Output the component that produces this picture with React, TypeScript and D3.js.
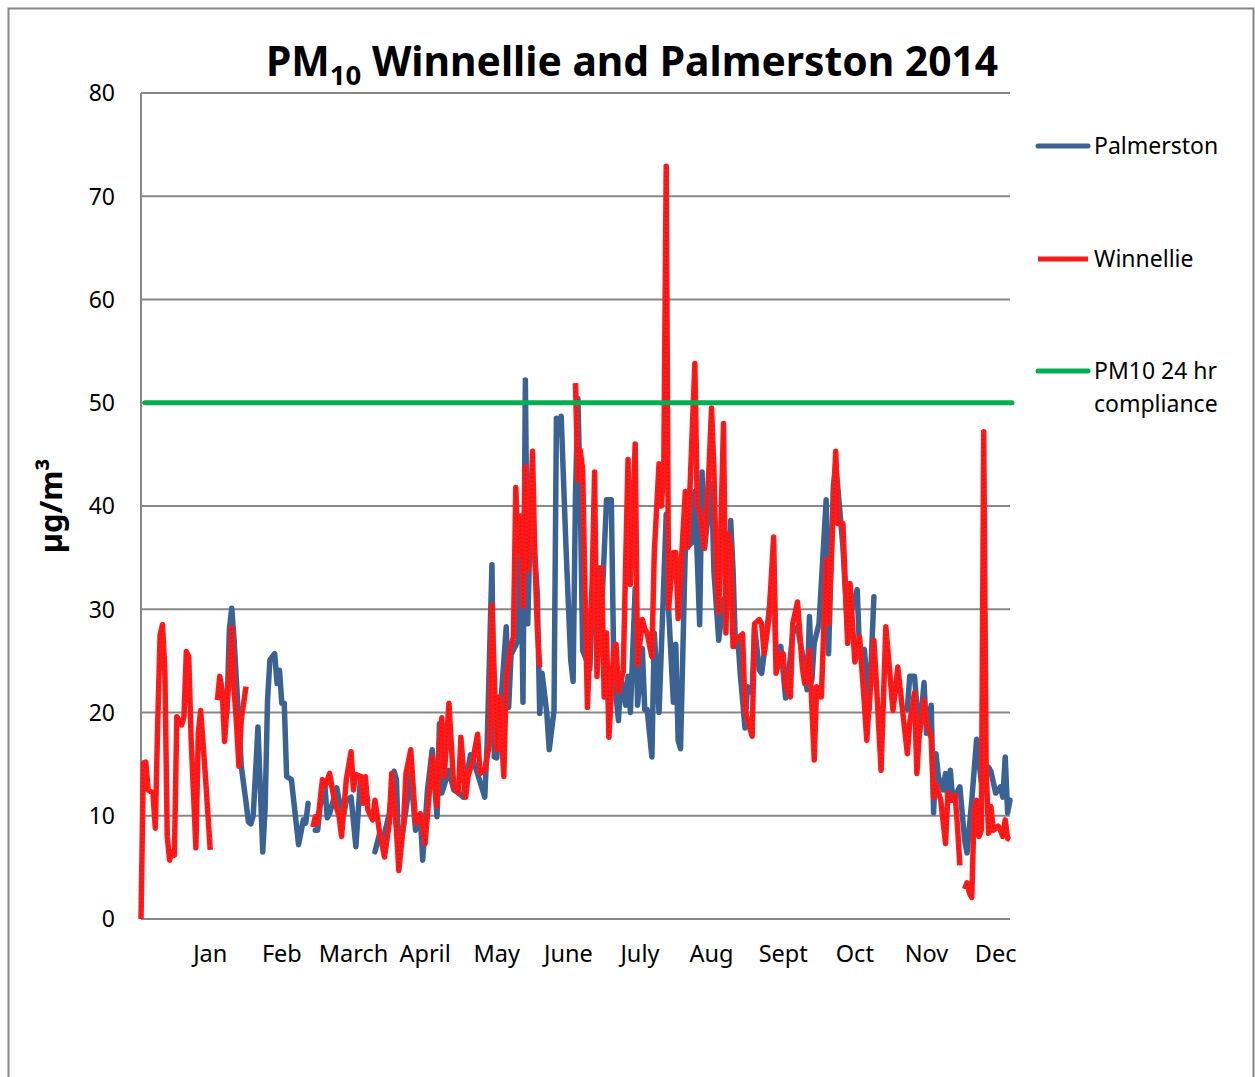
import React from "react";
import * as d3 from "d3";

type Pt = [number, number | null];

// Day index (0 = 1 Jan) and daily PM10 values (µg/m³); null marks a gap
const winnellie: Pt[] = [
  [0, 0], [1, 15.1], [2, 15.2], [3, 12.5], [5, 12.2], [6, 8.8], [7, 19], [8, 27.5], [9, 28.5], [10, 24],
  [11, 8], [12, 5.7], [13, 6.5], [14, 6.2], [15, 19.6], [17, 18.8], [18, 19.6], [19, 25.9], [20, 25.4],
  [21, 17.4], [23, 6.9], [24, 18], [25, 20.2], [27, 13.8], [29, 6.7],
  [30, null],
  [32, 21.2], [33, 23.5], [34, 22.2], [35, 17.2], [37, 23.8], [38, 28.2], [39, 22.2], [40, 19], [41, 14.8],
  [42, 19.3], [44, 22.5],
  [45, null],
  [72, 8.9], [73, 9.9], [74, 9.3], [76, 13.5], [77, 12.8], [79, 14.1], [81, 11.5], [83, 9.9], [84, 8],
  [86, 13.5], [88, 16.2], [89, 12.5], [90, 14], [92, 13.8], [93, 11.2], [94, 13.8], [95, 10.6], [97, 9.6],
  [98, 11.5], [100, 8.3], [102, 6], [104, 9.3], [105, 14.1], [107, 8.6], [108, 4.7], [110, 9.3], [111, 14.1],
  [113, 16.4], [115, 9.3], [117, 10.2], [119, 7.3], [122, 15.7], [124, 10.9], [125, 17], [126, 19.5],
  [127, 13.8], [129, 20.9], [131, 12.8], [133, 12.2], [134, 17.6], [136, 11.8], [137, 13.8], [139, 15.4],
  [141, 17.9], [142, 14.1], [144, 14.4], [146, 17], [147, 30.4], [149, 16.4], [150, 21.5], [152, 13.8],
  [153, 23.4], [155, 26.6], [156, 27.3], [157, 41.8], [158, 35.4], [159, 39], [160, 30.3], [161, 43.8],
  [162, 33.8], [163, 38], [164, 45.3], [165, 34.8], [166, 28.3], [167, 24.4],
  [168, null],
  [182, 51.9], [183, 42.5], [184, 45.4], [185, 43.5], [186, 31.5], [187, 20.5], [189, 32.8], [190, 43.3],
  [191, 23.5], [193, 34], [194, 21.5], [195, 27.7], [196, 17.6], [198, 26], [199, 26.6], [200, 22],
  [202, 24], [204, 44.5], [205, 32.4], [207, 46], [208, 24.6], [210, 29], [211, 28.1], [212, 27.7],
  [214, 25.4], [215, 35.5], [217, 44.1], [218, 40], [219, 44], [220, 72.9], [221, 30.1], [223, 35.5],
  [224, 35.5], [225, 29.1], [228, 41.4], [229, 36], [232, 53.8], [233, 40], [234, 39.5], [236, 35.9],
  [238, 44], [239, 49.5], [240, 43.3], [241, 33.6], [242, 29.7], [244, 48], [245, 27.7], [246, 37.3],
  [247, 36], [248, 26.4], [249, 27], [252, 27.6], [253, 20.3], [254, 19.3], [256, 17.7], [257, 28.6],
  [259, 29], [260, 28.6], [261, 25.7], [263, 29], [265, 37], [266, 23.8], [268, 25.7], [269, 25.7],
  [270, 22.5], [272, 21.5], [273, 28.6], [275, 30.7], [277, 24.4], [278, 22.8], [280, 26], [282, 15.4],
  [283, 22.5], [285, 21.5], [287, 34.8], [288, 28.6], [291, 45.3], [292, 38.3], [294, 38.3], [296, 26.7],
  [297, 32.5], [299, 24.9], [301, 27.3], [303, 20.9], [304, 17.3], [305, 20.9], [307, 27], [308, 23],
  [310, 14.4], [312, 28.3], [315, 20.2], [317, 24.4], [321, 16], [322, 19], [324, 21.9], [325, 14.1],
  [326, 18], [328, 21.2], [329, 19], [331, 17.5], [332, 11.8], [333, 13], [335, 11.5], [337, 7.3],
  [338, 12.2], [339, 11.5], [341, 12], [342, 9], [343, 5.2],
  [344, null],
  [345, 2.9], [346, 3.5], [347, 2.5], [348, 2.1], [349, 10.8], [350, 11.5], [351, 8], [352, 8.6],
  [353, 47.2], [354, 14.7], [355, 8.3], [356, 10.9], [357, 8.6], [359, 9], [360, 8.6], [361, 8],
  [362, 9.6], [363, 7.8], [364, 7.7],
];

const palmerston: Pt[] = [
  [35, 21], [36, 20], [37, 28], [38, 30.1], [39, 27], [41, 19], [42, 14.8], [44, 11.3], [45, 9.4],
  [46, 9.2], [47, 10], [49, 18.6], [50, 12.5], [51, 6.5], [52, 10.8], [53, 21.2], [54, 25.1], [56, 25.7],
  [57, 22.8], [58, 24.1], [59, 20.9], [60, 20.9], [61, 13.8], [63, 13.5], [65, 9.3], [66, 7.2], [68, 9.6],
  [69, 9.3], [70, 11.2],
  [71, null],
  [73, 8.6], [74, 8.6], [75, 10.9], [77, 13.1], [78, 9.8], [79, 10.2], [82, 12.7], [83, 11.5], [85, 10.2],
  [86, 11.5], [88, 11.8], [90, 7], [92, 13.8], [93, 13.1], [95, 11.5],
  [96, null],
  [98, 6.5], [100, 8.3], [101, 7.3], [104, 10.2], [106, 14.3], [107, 13.5], [108, 6], [111, 10.6],
  [113, 14.1], [115, 8.6], [117, 9.9], [118, 5.7], [120, 12.5], [122, 16.4], [124, 9.9], [125, 18.9],
  [126, 12.2], [129, 14.4], [131, 12.5], [133, 12.2], [135, 11.8], [138, 15.9], [140, 14.8], [144, 11.8],
  [145, 17], [147, 34.3], [148, 15.7], [149, 15.6], [151, 21.8], [153, 28.3], [154, 20.5], [155, 25.6],
  [158, 27], [159, 39], [160, 21], [161, 52.2], [162, 28.6], [163, 38], [164, 38.6], [166, 31.5],
  [167, 19.9], [168, 23.8], [170, 19.9], [171, 16.4], [173, 20.2], [174, 48.5], [175, 47], [176, 48.7],
  [178, 36.1], [180, 25.1], [181, 23], [182, 41.2], [183, 50.4], [184, 40.9], [185, 26], [188, 24.2],
  [189, 30], [190, 34], [192, 34], [193, 30.1], [195, 40.6], [197, 40.6], [198, 25], [199, 21.5],
  [200, 19.2], [201, 23.5], [203, 20.7], [204, 23.5], [205, 20], [207, 32], [208, 20.7], [210, 26.2],
  [211, 20.3], [212, 20.3], [214, 15.7], [215, 27.7], [217, 20], [220, 39.2], [221, 30], [223, 21],
  [224, 26.6], [225, 17.3], [226, 16.5], [228, 35.9], [231, 36.5], [232, 41.4], [234, 28.5], [235, 43.3],
  [236, 35.9], [239, 42.1], [240, 33.6], [242, 27], [244, 31], [245, 29.7], [247, 38.6], [248, 33.8],
  [249, 26.4], [250, 27.3], [251, 23.8], [253, 18.5], [254, 22.5], [256, 21.9], [257, 28.3], [259, 24.1],
  [260, 23.8], [261, 25.7], [263, 29.6], [265, 34.4], [266, 25.1], [268, 26.4], [270, 21.4], [271, 23.1],
  [273, 27.7], [275, 28.3], [277, 25.7], [279, 22.2], [280, 29.3], [281, 23.1], [282, 26.7], [284, 28.6],
  [287, 40.6], [288, 25.7], [290, 41.9], [291, 44.1], [294, 36.1], [296, 27.7], [298, 30.3], [300, 31.9],
  [301, 25.7], [303, 26.1], [305, 20.3], [307, 31.2],
  [308, null],
  [321, 20.3], [322, 23.5], [324, 23.5], [326, 17.7], [328, 22.9], [329, 18], [331, 20.7], [332, 10.3],
  [333, 16], [334, 13.8], [336, 12.5], [337, 14.1], [338, 11.5], [339, 14.4], [340, 11.5], [343, 12.8],
  [345, 7.6], [346, 6.4], [348, 11.5], [350, 17.4], [352, 13.2], [353, 14.1], [355, 14.7], [356, 14.3],
  [358, 12.2], [360, 12.8], [361, 11.8], [362, 15.7], [363, 10.3], [364, 11.5],
];

const compliance = 50;
const monthLabels = ["Jan", "Feb", "March", "April", "May", "June", "July", "Aug", "Sept", "Oct", "Nov", "Dec"];
const monthTickDays = [29, 59, 89, 119, 149, 179, 209, 239, 269, 299, 329, 358];
const yTicks = [0, 10, 20, 30, 40, 50, 60, 70, 80];

const FONT = "'Noto Sans', 'Open Sans', sans-serif";

export default function App() {
  const W = 1255, H = 1077;
  const left = 141, right = 1010, top = 93, bottom = 919;
  const x = d3.scaleLinear().domain([0, 364]).range([left, right]);
  const y = d3.scaleLinear().domain([0, 80]).range([bottom, top]);

  const line = d3
    .line<Pt>()
    .defined((d) => d[1] !== null)
    .x((d) => x(d[0]))
    .y((d) => y(d[1] as number));

  const blue = "#3A6394";
  const red = "#FF1A1A";
  const green = "#00B050";
  const grid = "#878787";

  return (
    <svg width={W} height={H} style={{ position: "absolute", left: 0, top: 0, background: "#fff" }}>
      <rect x={0} y={0} width={W} height={H} fill="#fff" />
      {/* chart frame */}
      <path d={`M8.5,${H + 5} V8.5 H1253.5 V${H + 5}`} fill="none" stroke={grid} strokeWidth={2} />

      {/* gridlines */}
      {yTicks.map((t) => (
        <line key={t} x1={left} x2={right} y1={y(t)} y2={y(t)} stroke={grid} strokeWidth={2} />
      ))}
      <line x1={left} x2={left} y1={top} y2={bottom} stroke={grid} strokeWidth={2} />

      {/* y tick labels */}
      {yTicks.map((t) => (
        <text key={t} x={115} y={y(t)} dy="0.36em" textAnchor="end" fontFamily={FONT} fontSize={23} fill="#000">
          {t}
        </text>
      ))}

      {/* x labels */}
      {monthLabels.map((m, i) => (
        <text key={m} x={x(monthTickDays[i])} y={962} textAnchor="middle" fontFamily={FONT} fontSize={23.5} fill="#000">
          {m}
        </text>
      ))}

      {/* y axis title */}
      <text
        transform="translate(62,506) rotate(-90)"
        textAnchor="middle"
        fontFamily={FONT}
        fontWeight="bold"
        fontSize={31}
        fill="#000"
      >
        µg/m³
      </text>

      {/* title */}
      <text x={266} y={76} fontFamily={FONT} fontWeight="bold" fontSize={40.8} fill="#000">
        PM<tspan fontSize={27.5} dy={9}>10</tspan>
        <tspan dy={-9}> Winnellie and Palmerston 2014</tspan>
      </text>

      {/* series */}
      <path d={line(palmerston) || ""} fill="none" stroke={blue} strokeWidth={5.5} strokeLinejoin="round" strokeLinecap="round" />
      <path d={line(winnellie) || ""} fill="none" stroke={red} strokeWidth={5.5} strokeLinejoin="round" strokeLinecap="butt" />
      <path d={line(winnellie) || ""} fill="none" stroke="#B00000" strokeWidth={1.2} strokeDasharray="1 3" strokeOpacity={0.5} />
      <line x1={left + 4} x2={right + 2} y1={y(compliance)} y2={y(compliance)} stroke={green} strokeWidth={5} strokeLinecap="round" />

      {/* legend */}
      <line x1={1038} x2={1088} y1={146} y2={146} stroke={blue} strokeWidth={5} strokeLinecap="round" />
      <text x={1094} y={146} dy="0.36em" fontFamily={FONT} fontSize={23} fill="#000">Palmerston</text>
      <line x1={1038} x2={1088} y1={259} y2={259} stroke={red} strokeWidth={5} />
      <line x1={1038} x2={1088} y1={259} y2={259} stroke="#B00000" strokeWidth={1.2} strokeDasharray="1 3" strokeOpacity={0.5} />
      <text x={1094} y={259} dy="0.36em" fontFamily={FONT} fontSize={23} fill="#000">Winnellie</text>
      <line x1={1038} x2={1088} y1={371} y2={371} stroke={green} strokeWidth={5} strokeLinecap="round" />
      <text x={1094} y={371} dy="0.36em" fontFamily={FONT} fontSize={23} fill="#000">PM10 24 hr</text>
      <text x={1094} y={404} dy="0.36em" fontFamily={FONT} fontSize={23} fill="#000">compliance</text>
    </svg>
  );
}
